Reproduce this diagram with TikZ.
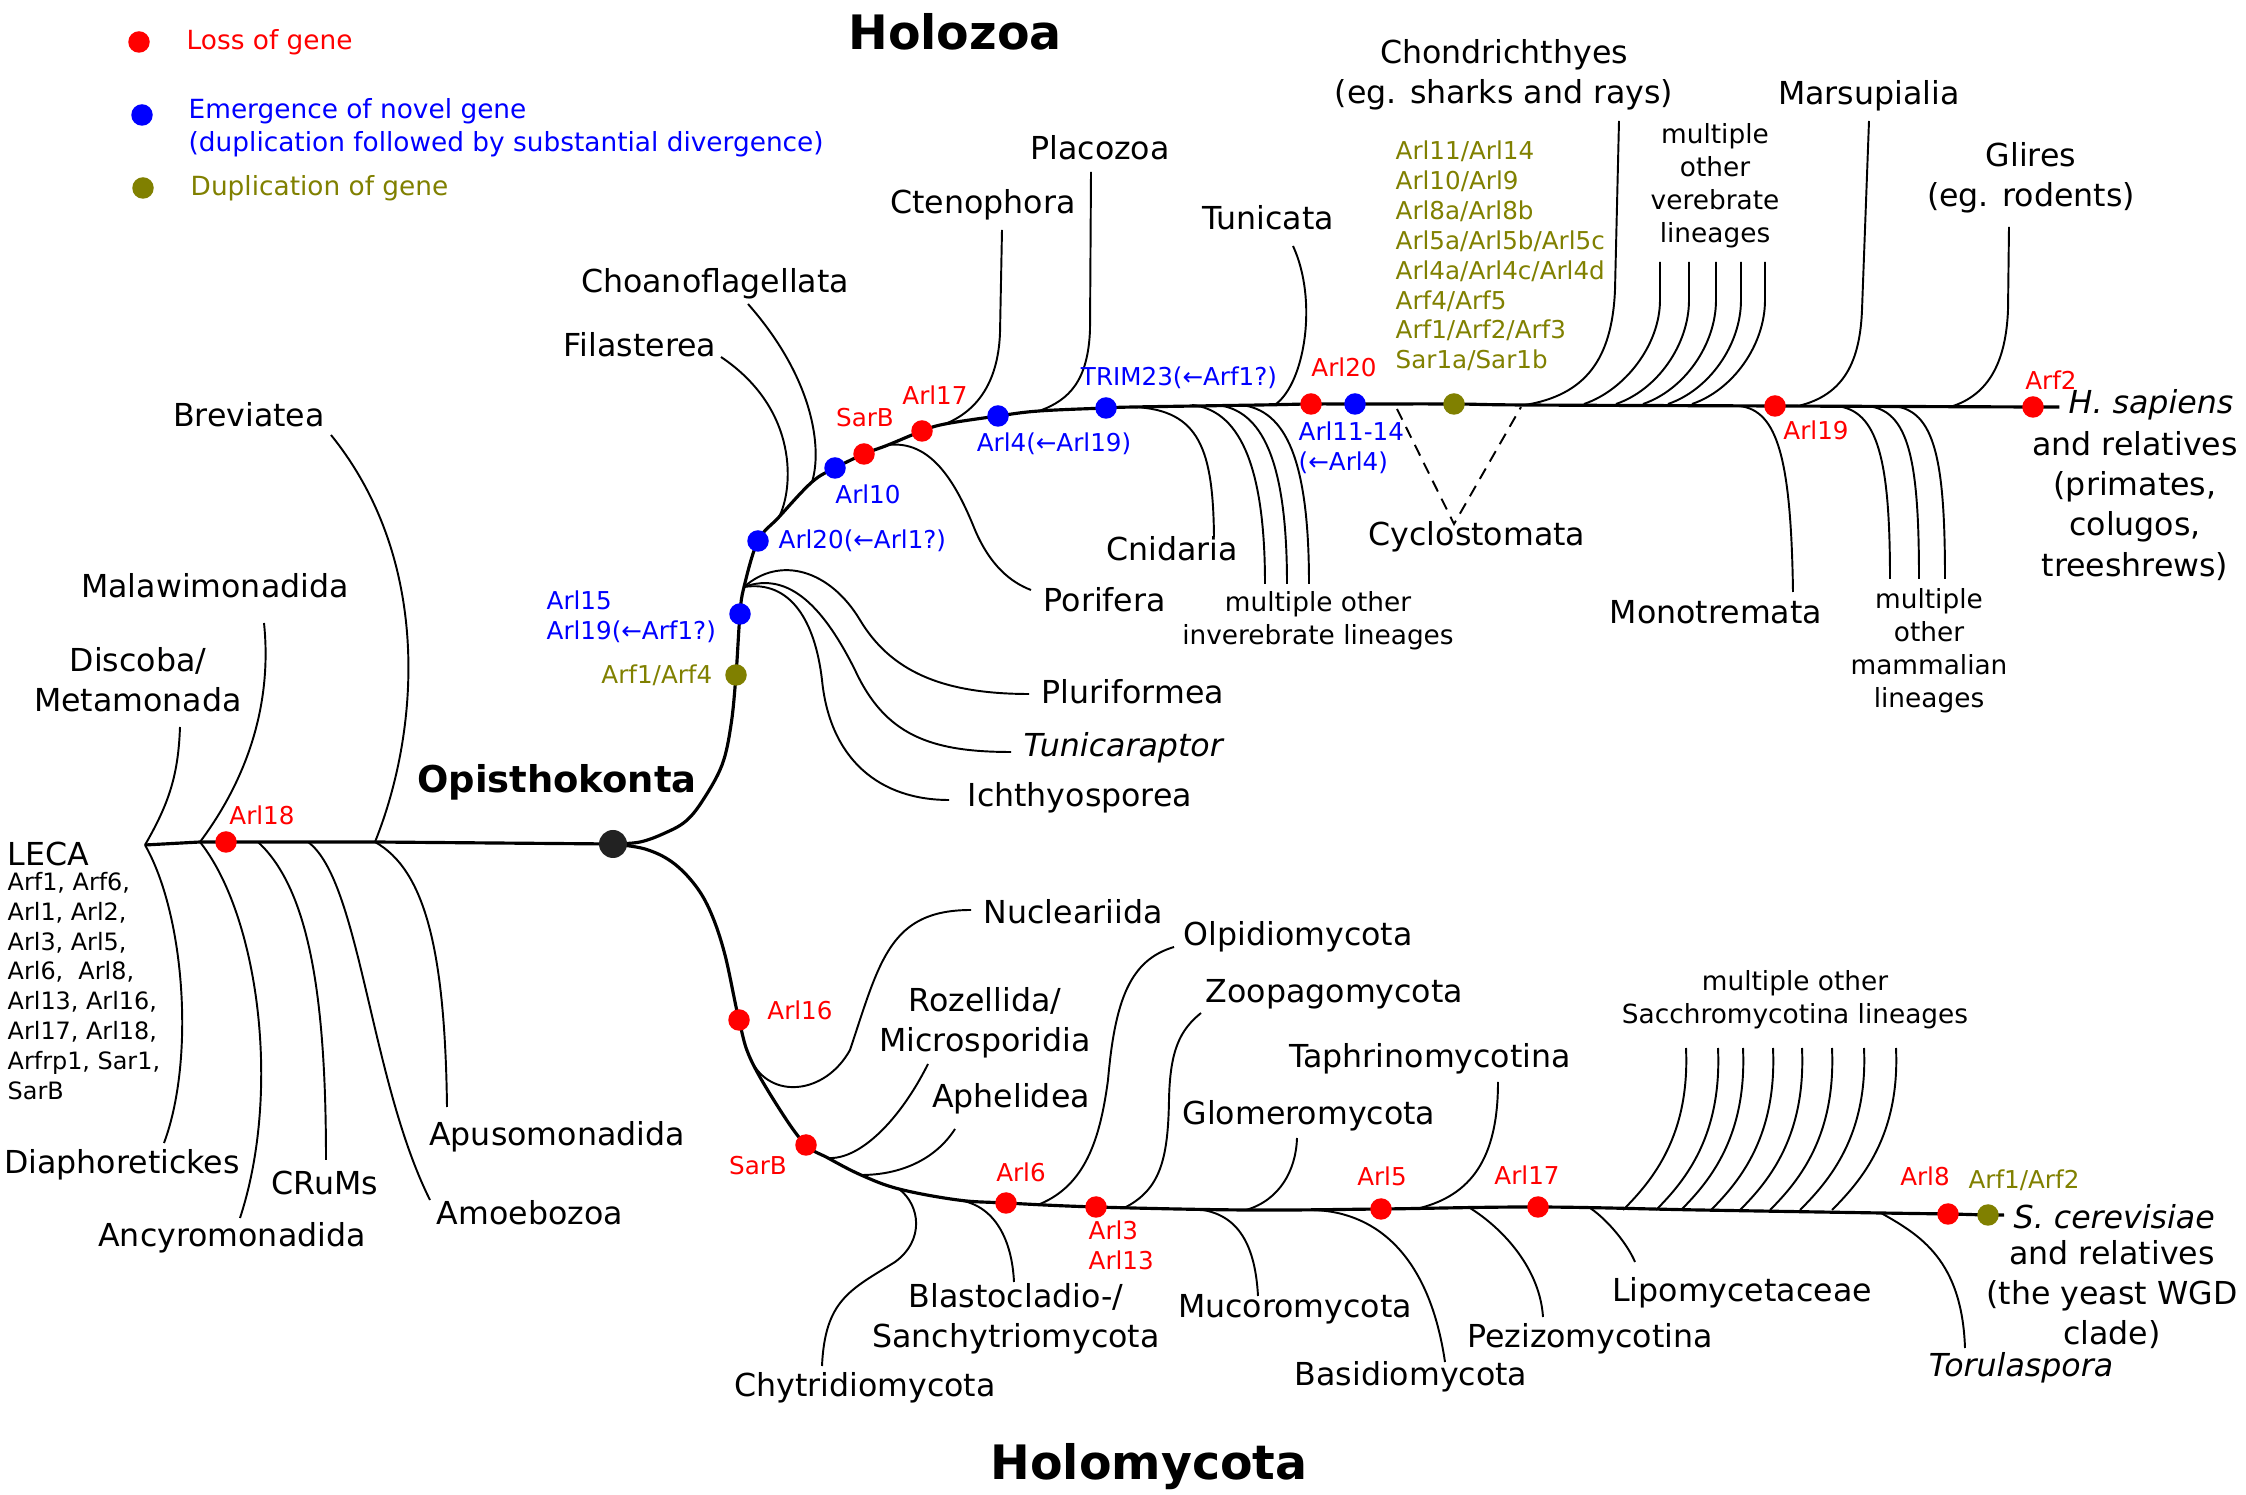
\documentclass[tikz,border=0pt]{standalone}
\usepackage{fontspec}
\setmainfont{DejaVu Sans}
\usepackage{tikz}
\usetikzlibrary{shapes}
\definecolor{lossred}{RGB}{255,0,0}
\definecolor{novblue}{RGB}{0,0,255}
\definecolor{dupolive}{RGB}{128,128,0}
\definecolor{rootdot}{RGB}{34,34,34}

\begin{document}
\begin{tikzpicture}[x = 0.1mm, y = -0.1mm,
  br/.style = {line width = 0.55pt},
  bb/.style = {line width = 0.9pt},
  taxon/.style = {font = \fontsize{9}{11.4}\selectfont, align = center, inner sep = 0pt},
  multi/.style = {font = \fontsize{7.5}{9.4}\selectfont, align = center, inner sep = 0pt},
  gene/.style = {font = \fontsize{7}{8.5}\selectfont, align = left, inner sep = 0pt},
  legend/.style = {font = \fontsize{7.5}{9.4}\selectfont, align = left, inner sep = 0pt, anchor = west},
  clade/.style = {font = \bfseries\fontsize{13.5}{16}\selectfont, inner sep = 0pt},
  loss/.style = {circle, fill = lossred, inner sep = 0pt, minimum size = 2.15mm},
  novel/.style = {circle, fill = novblue, inner sep = 0pt, minimum size = 2.15mm},
  dupl/.style = {circle, fill = dupolive, inner sep = 0pt, minimum size = 2.15mm}]
\useasboundingbox (0,0) rectangle (2246,1495);

% legend
\node[loss] (lgloss) at (139,42) {};
\node[novel] (lgnov) at (142,115) {};
\node[dupl] (lgdup) at (143,188) {};
\node[legend, text = lossred] (lglosst) at (186,42) {Loss of gene};
\node[legend, text = novblue] (lgnovt) at (188,128) {Emergence of novel gene\\(duplication followed by substantial divergence)};
\node[legend, text = dupolive] (lgdupt) at (190,188) {Duplication of gene};

\node[clade] (holozoa) at (955,32) {Holozoa};
\node[clade] (holomyc) at (1149,1467) {Holomycota};
\node[font = \bfseries\fontsize{10.5}{12}\selectfont, inner sep = 0pt] (opilbl) at (557,782) {Opisthokonta};

% backbone points
\coordinate (leca) at (145,845);
\coordinate (n1) at (200,842);
\coordinate (c18) at (226,842);
\coordinate (n2) at (258,842);
\coordinate (n3) at (308,842);
\coordinate (n4) at (375,842);
\coordinate (opi) at (613,844);

\coordinate (arf14c) at (736,675);
\coordinate (a15c) at (740,614);
\coordinate (hbp) at (744,587);
\coordinate (a20c) at (758,541);
\coordinate (fil0) at (779,517);
\coordinate (cho0) at (812,482);
\coordinate (a10c) at (835,468);
\coordinate (sbc) at (864,454);
\coordinate (por0) at (888,445);
\coordinate (a17c) at (922,431);
\coordinate (cte0) at (945,424);
\coordinate (a4c) at (998,416);
\coordinate (pla0) at (1039,411);
\coordinate (trc) at (1106,408);
\coordinate (cni0) at (1134,407);
\coordinate (tun0) at (1276,404);
\coordinate (a20bc) at (1311,404);
\coordinate (a1114c) at (1355,404);
\coordinate (dupc) at (1454,404);
\coordinate (chd0) at (1525,405);
\coordinate (mon0) at (1739,406);
\coordinate (a19c) at (1775,406);
\coordinate (mar0) at (1798,406);
\coordinate (gli0) at (1950,407);
\coordinate (arf2c) at (2033,407);
\coordinate (hend) at (2051,407);

\coordinate (a16c) at (739,1020);
\coordinate (nuc0) at (751,1060);
\coordinate (sbmc) at (806,1145);
\coordinate (roz0) at (828,1158);
\coordinate (aph0) at (861,1175);
\coordinate (chy0) at (899,1189);
\coordinate (bla0) at (958,1200);
\coordinate (a6c) at (1006,1203);
\coordinate (olp0) at (1040,1204);
\coordinate (a3c) at (1096,1207);
\coordinate (zoo0) at (1124,1208);
\coordinate (muc0) at (1195,1209);
\coordinate (glo0) at (1246,1210);
\coordinate (bas0) at (1313,1210);
\coordinate (a5c) at (1381,1209);
\coordinate (tap0) at (1420,1208);
\coordinate (pez0) at (1470,1208);
\coordinate (a17mc) at (1538,1207);
\coordinate (lip0) at (1590,1208);
\coordinate (tor0) at (1881,1213);
\coordinate (a8c) at (1948,1214);
\coordinate (dupmc) at (1988,1215);
\coordinate (mend) at (2004,1215);

% tips
\coordinate (tdis) at (180,727);
\coordinate (tmal) at (264,623);
\coordinate (tbre) at (331,435);
\coordinate (tdia) at (164,1143);
\coordinate (tanc) at (240,1218);
\coordinate (tcru) at (326,1160);
\coordinate (tamo) at (430,1200);
\coordinate (tapu) at (447,1107);
\coordinate (tfil) at (721,357);
\coordinate (tcho) at (748,304);
\coordinate (tcte) at (1002,230);
\coordinate (tpla) at (1091,172);
\coordinate (ttun) at (1293,246);
\coordinate (tchd) at (1619,121);
\coordinate (tmar) at (1869,121);
\coordinate (tgli) at (2009,227);
\coordinate (tplu) at (1029,694);
\coordinate (ttur) at (1011,752);
\coordinate (tich) at (949,800);
\coordinate (tpor) at (1031,590);
\coordinate (tcni) at (1214,537);
\coordinate (cyap) at (1454,524);
\coordinate (cyl) at (1397,409);
\coordinate (cyr) at (1521,407);
\coordinate (tmon) at (1793,592);
\coordinate (tnuc) at (971,910);
\coordinate (troz) at (928,1064);
\coordinate (taph) at (955,1129);
\coordinate (tchy) at (822,1366);
\coordinate (tbla) at (1014,1282);
\coordinate (tolp) at (1174,947);
\coordinate (tzoo) at (1201,1013);
\coordinate (tmuc) at (1258,1296);
\coordinate (tglo) at (1297,1138);
\coordinate (tbas) at (1445,1362);
\coordinate (ttap) at (1498,1082);
\coordinate (tpez) at (1543,1317);
\coordinate (tlip) at (1635,1262);
\coordinate (ttor) at (1965,1348);

% stems
\draw[bb] (leca) -- (n1) -- (c18) -- (n2) -- (n3) -- (n4) -- (opi);
\draw[bb] plot[smooth, tension = 0.6] coordinates {(opi) (640,842) (665,833) (686,821) (703,800) (722,765) (731,725) (arf14c) (a15c) (hbp) (a20c) (fil0) (cho0) (a10c) (sbc) (por0) (a17c) (cte0) (a4c) (pla0) (trc) (cni0) (1260,405) (a20bc) (a1114c) (dupc) (chd0) (a19c) (arf2c) (hend)};
\draw[bb] plot[smooth, tension = 0.6] coordinates {(opi) (645,849) (672,862) (695,885) (711,913) (725,955) (a16c) (nuc0) (782,1113) (sbmc) (roz0) (aph0) (chy0) (bla0) (a6c) (a3c) (glo0) (a5c) (a17mc) (1700,1210) (tor0) (a8c) (dupmc) (mend)};

% outgroups
\draw[br] (leca) to[out = 60, in = -92] (tdis);
\draw[br] (n1) .. controls (250,775) and (272,700) .. (tmal);
\draw[br] (n4) .. controls (420,730) and (432,560) .. (tbre);
\draw[br] (leca) .. controls (185,915) and (195,1060) .. (tdia);
\draw[br] (n1) .. controls (258,915) and (282,1090) .. (tanc);
\draw[br] (n2) .. controls (310,890) and (326,1000) .. (tcru);
\draw[br] (n3) .. controls (360,880) and (370,1080) .. (tamo);
\draw[br] (n4) .. controls (425,870) and (445,950) .. (tapu);

% Holozoa
\draw[br] (fil0) .. controls (793,490) and (800,410) .. (tfil);
\draw[br] (cho0) .. controls (822,450) and (815,380) .. (tcho);
\draw[br] (cte0) .. controls (975,412) and (998,385) .. (1000,333) -- (tcte);
\draw[br] (pla0) .. controls (1070,400) and (1088,380) .. (1090,330) -- (tpla);
\draw[br] (tun0) .. controls (1305,382) and (1318,300) .. (ttun);
\draw[br] (chd0) .. controls (1585,395) and (1612,360) .. (1615,290) -- (tchd);
\foreach \j/\t in {1584/1660, 1616/1689, 1643/1716, 1668/1741, 1692/1765}
  \draw[br] (\j,404) .. controls ({\j+41},390) and (\t,345) .. (\t,300) -- (\t,262);
\draw[br] (mar0) .. controls (1845,395) and (1860,360) .. (1862,310) -- (tmar);
\draw[br] (gli0) .. controls (1990,395) and (2006,360) .. (2008,310) -- (tgli);
\draw[br] (hbp) .. controls (780,555) and (830,570) .. (860,620) .. controls (890,670) and (940,694) .. (tplu);
\draw[br] (hbp) .. controls (790,570) and (825,610) .. (855,670) .. controls (885,735) and (930,752) .. (ttur);
\draw[br] (hbp) .. controls (790,580) and (815,620) .. (822,680) .. controls (830,760) and (880,800) .. (tich);
\draw[br] (por0) .. controls (930,440) and (955,480) .. (975,530) .. controls (990,565) and (1010,582) .. (tpor);
\draw[br] (cni0) .. controls (1200,410) and (1213,450) .. (tcni);
\foreach \j/\t in {1192/1265, 1217/1287, 1241/1309}
  \draw[br] (\j,405) .. controls ({\j+45},410) and (\t,460) .. (\t,584);
\draw[br, dash pattern = on 3.4pt off 2.3pt] (cyl) -- (cyap) -- (cyr);
\draw[br] (mon0) .. controls (1778,410) and (1791,460) .. (tmon);
\foreach \j/\t in {1836/1890, 1867/1919, 1893/1945}
  \draw[br] (\j,406) .. controls ({\j+42},410) and (\t,460) .. (\t,579);

% Holomycota
\draw[br] (nuc0) .. controls (770,1100) and (825,1095) .. (850,1050) .. controls (880,960) and (890,910) .. (tnuc);
\draw[br] (roz0) .. controls (860,1160) and (900,1120) .. (troz);
\draw[br] (aph0) .. controls (900,1175) and (935,1160) .. (taph);
\draw[br] (chy0) .. controls (920,1205) and (925,1240) .. (895,1262) .. controls (850,1290) and (825,1300) .. (tchy);
\draw[br] (bla0) .. controls (995,1205) and (1012,1240) .. (tbla);
\draw[br] (olp0) .. controls (1085,1185) and (1100,1140) .. (1108,1080) .. controls (1115,1000) and (1130,960) .. (tolp);
\draw[br] (zoo0) .. controls (1160,1190) and (1168,1160) .. (1169,1100) .. controls (1170,1050) and (1180,1030) .. (tzoo);
\draw[br] (muc0) .. controls (1235,1212) and (1255,1240) .. (tmuc);
\draw[br] (glo0) .. controls (1280,1200) and (1296,1170) .. (tglo);
\draw[br] (bas0) .. controls (1380,1212) and (1430,1260) .. (tbas);
\draw[br] (tap0) .. controls (1470,1195) and (1498,1160) .. (ttap);
\draw[br] (pez0) .. controls (1505,1230) and (1540,1270) .. (tpez);
\draw[br] (lip0) .. controls (1608,1220) and (1628,1245) .. (tlip);
\foreach \j/\t in {1623/1686, 1656/1718, 1681/1743, 1711/1773, 1740/1802, 1770/1832, 1800/1864, 1832/1896}
  \draw[br] (\j,1210) .. controls ({\j+30},1180) and ({\t+4},1135) .. (\t,1048);
\draw[br] (tor0) .. controls (1920,1235) and (1962,1260) .. (ttor);

% gene events
\node[loss] (d18) at (c18) {};
\node[circle, fill = rootdot, inner sep = 0pt, minimum size = 2.8mm] (dopi) at (opi) {};
\node[dupl] (darf14) at (arf14c) {};
\node[novel] (da15) at (a15c) {};
\node[novel] (da20) at (a20c) {};
\node[novel] (da10) at (a10c) {};
\node[loss] (dsb) at (sbc) {};
\node[loss] (da17) at (a17c) {};
\node[novel] (da4) at (a4c) {};
\node[novel] (dtr) at (trc) {};
\node[loss] (da20b) at (a20bc) {};
\node[novel] (da1114) at (a1114c) {};
\node[dupl] (ddup) at (dupc) {};
\node[loss] (da19) at (a19c) {};
\node[loss] (darf2) at (arf2c) {};
\node[loss] (da16) at (a16c) {};
\node[loss] (dsbm) at (sbmc) {};
\node[loss] (da6) at (a6c) {};
\node[loss] (da3) at (a3c) {};
\node[loss] (da5) at (a5c) {};
\node[loss] (da17m) at (a17mc) {};
\node[loss] (da8) at (a8c) {};
\node[dupl] (ddupm) at (dupmc) {};

\node[gene, text = lossred] (l18) at (262,815) {Arl18};
\node[gene, text = dupolive, anchor = east] (larf14) at (713,675) {Arf1/Arf4};
\node[gene, text = novblue, anchor = west] (la15) at (546,617) {Arl15\\Arl19(←Arf1?)};
\node[gene, text = novblue, anchor = west] (la20) at (778,541) {Arl20(←Arl1?)};
\node[gene, text = novblue] (la10) at (868,494) {Arl10};
\node[gene, text = lossred] (lsb) at (865,418) {SarB};
\node[gene, text = lossred] (la17) at (935,395) {Arl17};
\node[gene, text = novblue] (la4) at (1054,444) {Arl4(←Arl19)};
\node[gene, text = novblue] (ltr) at (1179,378) {TRIM23(←Arf1?)};
\node[gene, text = lossred] (la20b) at (1344,367) {Arl20};
\node[gene, text = novblue, anchor = west] (la1114) at (1298,448) {Arl11-14\\(←Arl4)};
\node[gene, text = dupolive, anchor = west] (ldup) at (1395,256) {Arl11/Arl14\\Arl10/Arl9\\Arl8a/Arl8b\\Arl5a/Arl5b/Arl5c\\Arl4a/Arl4c/Arl4d\\Arf4/Arf5\\Arf1/Arf2/Arf3\\Sar1a/Sar1b};
\node[gene, text = lossred] (la19) at (1816,430) {Arl19};
\node[gene, text = lossred] (larf2) at (2051,380) {Arf2};
\node[gene, text = lossred] (la16) at (800,1010) {Arl16};
\node[gene, text = lossred] (lsbm) at (758,1166) {SarB};
\node[gene, text = lossred] (la6) at (1021,1172) {Arl6};
\node[gene, text = lossred, anchor = west] (la3) at (1088,1245) {Arl3\\Arl13};
\node[gene, text = lossred] (la5) at (1382,1176) {Arl5};
\node[gene, text = lossred] (la17m) at (1527,1175) {Arl17};
\node[gene, text = lossred] (la8) at (1925,1176) {Arl8};
\node[gene, text = dupolive] (larf12) at (2024,1180) {Arf1/Arf2};

% taxa
\node[taxon, anchor = west] (lleca) at (7,854) {LECA};
\node[gene, anchor = west, font = \fontsize{6.8}{8.5}\selectfont] (llist) at (7,986) {Arf1, Arf6,\\Arl1, Arl2,\\Arl3, Arl5,\\Arl6,\ \ Arl8,\\Arl13, Arl16,\\Arl17, Arl18,\\Arfrp1, Sar1,\\SarB};
\node[taxon] (ldis) at (138,680) {Discoba/\\Metamonada};
\node[taxon] (lmal) at (215,586) {Malawimonadida};
\node[taxon] (lbre) at (249,415) {Breviatea};
\node[taxon] (ldia) at (122,1165) {Diaphoretickes};
\node[taxon] (lanc) at (232,1238) {Ancyromonadida};
\node[taxon] (lcru) at (325,1183) {CRuMs};
\node[taxon] (lamo) at (530,1213) {Amoebozoa};
\node[taxon] (lapu) at (557,1137) {Apusomonadida};

\node[taxon] (lfil) at (640,345) {Filasterea};
\node[taxon] (lcho) at (715,284) {Choanoflagellata};
\node[taxon] (lcte) at (983,205) {Ctenophora};
\node[taxon] (lpla) at (1100,148) {Placozoa};
\node[taxon] (ltun) at (1268,218) {Tunicata};
\node[taxon] (lchd) at (1504,75) {Chondrichthyes\\(eg. sharks and rays)};
\node[multi] (lvert) at (1715,186) {multiple\\other\\verebrate\\lineages};
\node[taxon] (lmar) at (1869,96) {Marsupialia};
\node[taxon] (lgli) at (2031,178) {Glires\\(eg. rodents)};
\node[taxon, anchor = west, font = \itshape\fontsize{9}{11.4}\selectfont] (lhs) at (2068,405) {H. sapiens};
\node[taxon] (lhsr) at (2135,506) {and relatives\\(primates,\\colugos,\\treeshrews)};
\node[taxon, anchor = west] (lplu) at (1041,692) {Pluriformea};
\node[taxon, anchor = west, font = \itshape\fontsize{9}{11.4}\selectfont] (ltur) at (1023,748) {Tunicaraptor};
\node[taxon, anchor = west] (lich) at (967,798) {Ichthyosporea};
\node[taxon, anchor = west] (lpor) at (1043,600) {Porifera};
\node[taxon] (lcni) at (1172,549) {Cnidaria};
\node[multi] (linv) at (1318,621) {multiple other\\inverebrate lineages};
\node[taxon] (lcyc) at (1477,537) {Cyclostomata};
\node[taxon] (lmon) at (1716,612) {Monotremata};
\node[multi] (lmam) at (1929,651) {multiple\\other\\mammalian\\lineages};

\node[taxon, anchor = west] (lnuc) at (983,912) {Nucleariida};
\node[taxon] (lroz) at (985,1023) {Rozellida/\\Microsporidia};
\node[taxon] (laph) at (1011,1099) {Aphelidea};
\node[taxon] (lchy) at (865,1388) {Chytridiomycota};
\node[taxon] (lbla) at (1016,1319) {Blastocladio-/\\Sanchytriomycota};
\node[taxon, anchor = west] (lolp) at (1183,937) {Olpidiomycota};
\node[taxon, anchor = west] (lzoo) at (1205,994) {Zoopagomycota};
\node[taxon] (lmuc) at (1295,1309) {Mucoromycota};
\node[taxon] (lglo) at (1309,1116) {Glomeromycota};
\node[taxon] (lbas) at (1411,1377) {Basidiomycota};
\node[taxon] (ltap) at (1430,1059) {Taphrinomycotina};
\node[taxon] (lpez) at (1590,1339) {Pezizomycotina};
\node[taxon] (llip) at (1742,1293) {Lipomycetaceae};
\node[multi] (lsac) at (1795,1000) {multiple other\\Sacchromycotina lineages};
\node[taxon, font = \itshape\fontsize{9}{11.4}\selectfont] (ltor) at (2021,1368) {Torulaspora};
\node[taxon, anchor = west, font = \itshape\fontsize{9}{11.4}\selectfont] (lsc) at (2013,1217) {S. cerevisiae};
\node[taxon] (lscr) at (2112,1295) {and relatives\\(the yeast WGD\\clade)};
\end{tikzpicture}
\end{document}
